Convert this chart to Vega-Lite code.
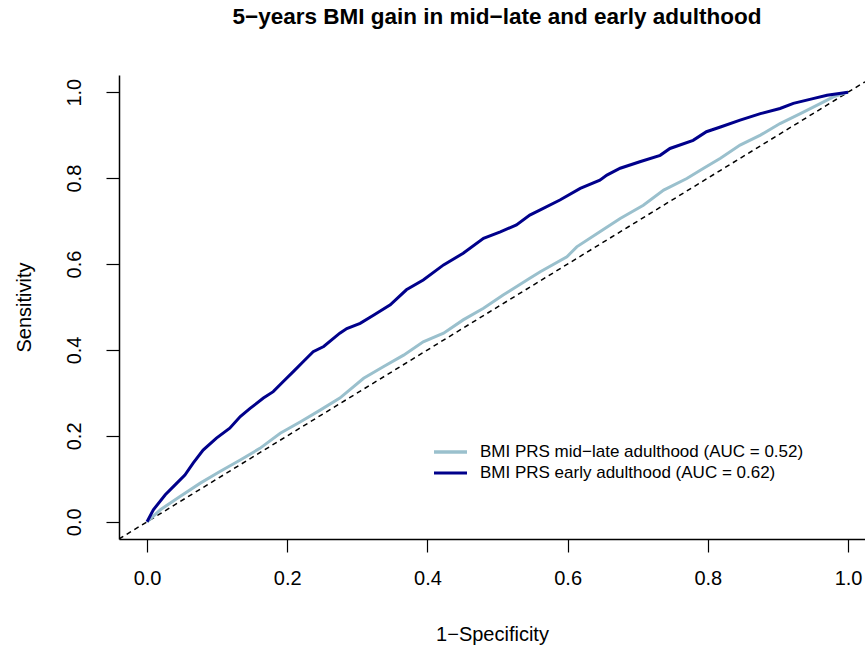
{
  "$schema": "https://vega.github.io/schema/vega-lite/v6.json",
  "width": 746,
  "height": 464,
  "autosize": "none",
  "padding": {"left": 119, "top": 75, "right": 0, "bottom": 110},
  "background": "white",
  "config": {
    "view": {"stroke": null},
    "font": "Liberation Sans",
    "axis": {
      "domainColor": "black",
      "domainWidth": 1.5,
      "tickColor": "black",
      "tickWidth": 1.2,
      "tickSize": 13,
      "labelColor": "black",
      "titleColor": "black",
      "labelFont": "Liberation Sans",
      "titleFont": "Liberation Sans",
      "labelFontSize": 20,
      "titleFontSize": 20,
      "titleFontWeight": "normal",
      "grid": false
    }
  },
  "title": {
    "text": "5−years BMI gain in mid−late and early adulthood",
    "font": "Liberation Sans",
    "fontSize": 22.5,
    "fontWeight": "bold",
    "color": "black",
    "anchor": "middle",
    "frame": "group",
    "baseline": "bottom",
    "offset": 24,
    "dx": 5
  },
  "datasets": {
    "diag": [
      {"fpr": -0.04, "tpr": -0.04},
      {"fpr": 1.0242, "tpr": 1.0242}
    ],
    "roc": [
      {"model": "BMI PRS mid−late adulthood (AUC = 0.52)", "fpr": 0.0, "tpr": 0.0},
      {"model": "BMI PRS mid−late adulthood (AUC = 0.52)", "fpr": 0.019, "tpr": 0.028},
      {"model": "BMI PRS mid−late adulthood (AUC = 0.52)", "fpr": 0.047, "tpr": 0.059},
      {"model": "BMI PRS mid−late adulthood (AUC = 0.52)", "fpr": 0.076, "tpr": 0.090},
      {"model": "BMI PRS mid−late adulthood (AUC = 0.52)", "fpr": 0.104, "tpr": 0.117},
      {"model": "BMI PRS mid−late adulthood (AUC = 0.52)", "fpr": 0.133, "tpr": 0.144},
      {"model": "BMI PRS mid−late adulthood (AUC = 0.52)", "fpr": 0.161, "tpr": 0.171},
      {"model": "BMI PRS mid−late adulthood (AUC = 0.52)", "fpr": 0.190, "tpr": 0.206},
      {"model": "BMI PRS mid−late adulthood (AUC = 0.52)", "fpr": 0.219, "tpr": 0.233},
      {"model": "BMI PRS mid−late adulthood (AUC = 0.52)", "fpr": 0.247, "tpr": 0.260},
      {"model": "BMI PRS mid−late adulthood (AUC = 0.52)", "fpr": 0.275, "tpr": 0.288},
      {"model": "BMI PRS mid−late adulthood (AUC = 0.52)", "fpr": 0.309, "tpr": 0.334},
      {"model": "BMI PRS mid−late adulthood (AUC = 0.52)", "fpr": 0.337, "tpr": 0.361},
      {"model": "BMI PRS mid−late adulthood (AUC = 0.52)", "fpr": 0.366, "tpr": 0.388},
      {"model": "BMI PRS mid−late adulthood (AUC = 0.52)", "fpr": 0.394, "tpr": 0.419},
      {"model": "BMI PRS mid−late adulthood (AUC = 0.52)", "fpr": 0.423, "tpr": 0.439},
      {"model": "BMI PRS mid−late adulthood (AUC = 0.52)", "fpr": 0.451, "tpr": 0.470},
      {"model": "BMI PRS mid−late adulthood (AUC = 0.52)", "fpr": 0.480, "tpr": 0.497},
      {"model": "BMI PRS mid−late adulthood (AUC = 0.52)", "fpr": 0.508, "tpr": 0.528},
      {"model": "BMI PRS mid−late adulthood (AUC = 0.52)", "fpr": 0.546, "tpr": 0.567},
      {"model": "BMI PRS mid−late adulthood (AUC = 0.52)", "fpr": 0.561, "tpr": 0.582},
      {"model": "BMI PRS mid−late adulthood (AUC = 0.52)", "fpr": 0.599, "tpr": 0.617},
      {"model": "BMI PRS mid−late adulthood (AUC = 0.52)", "fpr": 0.613, "tpr": 0.640},
      {"model": "BMI PRS mid−late adulthood (AUC = 0.52)", "fpr": 0.646, "tpr": 0.675},
      {"model": "BMI PRS mid−late adulthood (AUC = 0.52)", "fpr": 0.675, "tpr": 0.706},
      {"model": "BMI PRS mid−late adulthood (AUC = 0.52)", "fpr": 0.708, "tpr": 0.737},
      {"model": "BMI PRS mid−late adulthood (AUC = 0.52)", "fpr": 0.737, "tpr": 0.772},
      {"model": "BMI PRS mid−late adulthood (AUC = 0.52)", "fpr": 0.770, "tpr": 0.799},
      {"model": "BMI PRS mid−late adulthood (AUC = 0.52)", "fpr": 0.794, "tpr": 0.823},
      {"model": "BMI PRS mid−late adulthood (AUC = 0.52)", "fpr": 0.818, "tpr": 0.846},
      {"model": "BMI PRS mid−late adulthood (AUC = 0.52)", "fpr": 0.846, "tpr": 0.877},
      {"model": "BMI PRS mid−late adulthood (AUC = 0.52)", "fpr": 0.875, "tpr": 0.900},
      {"model": "BMI PRS mid−late adulthood (AUC = 0.52)", "fpr": 0.903, "tpr": 0.927},
      {"model": "BMI PRS mid−late adulthood (AUC = 0.52)", "fpr": 0.932, "tpr": 0.950},
      {"model": "BMI PRS mid−late adulthood (AUC = 0.52)", "fpr": 0.961, "tpr": 0.974},
      {"model": "BMI PRS mid−late adulthood (AUC = 0.52)", "fpr": 0.979, "tpr": 0.989},
      {"model": "BMI PRS mid−late adulthood (AUC = 0.52)", "fpr": 1.0, "tpr": 1.0},
      {"model": "BMI PRS early adulthood (AUC = 0.62)", "fpr": 0.0, "tpr": 0.0},
      {"model": "BMI PRS early adulthood (AUC = 0.62)", "fpr": 0.009, "tpr": 0.028},
      {"model": "BMI PRS early adulthood (AUC = 0.62)", "fpr": 0.026, "tpr": 0.063},
      {"model": "BMI PRS early adulthood (AUC = 0.62)", "fpr": 0.040, "tpr": 0.086},
      {"model": "BMI PRS early adulthood (AUC = 0.62)", "fpr": 0.054, "tpr": 0.109},
      {"model": "BMI PRS early adulthood (AUC = 0.62)", "fpr": 0.066, "tpr": 0.137},
      {"model": "BMI PRS early adulthood (AUC = 0.62)", "fpr": 0.080, "tpr": 0.167},
      {"model": "BMI PRS early adulthood (AUC = 0.62)", "fpr": 0.099, "tpr": 0.195},
      {"model": "BMI PRS early adulthood (AUC = 0.62)", "fpr": 0.118, "tpr": 0.218},
      {"model": "BMI PRS early adulthood (AUC = 0.62)", "fpr": 0.133, "tpr": 0.245},
      {"model": "BMI PRS early adulthood (AUC = 0.62)", "fpr": 0.147, "tpr": 0.264},
      {"model": "BMI PRS early adulthood (AUC = 0.62)", "fpr": 0.166, "tpr": 0.288},
      {"model": "BMI PRS early adulthood (AUC = 0.62)", "fpr": 0.180, "tpr": 0.303},
      {"model": "BMI PRS early adulthood (AUC = 0.62)", "fpr": 0.194, "tpr": 0.326},
      {"model": "BMI PRS early adulthood (AUC = 0.62)", "fpr": 0.209, "tpr": 0.350},
      {"model": "BMI PRS early adulthood (AUC = 0.62)", "fpr": 0.223, "tpr": 0.373},
      {"model": "BMI PRS early adulthood (AUC = 0.62)", "fpr": 0.237, "tpr": 0.396},
      {"model": "BMI PRS early adulthood (AUC = 0.62)", "fpr": 0.252, "tpr": 0.408},
      {"model": "BMI PRS early adulthood (AUC = 0.62)", "fpr": 0.275, "tpr": 0.439},
      {"model": "BMI PRS early adulthood (AUC = 0.62)", "fpr": 0.285, "tpr": 0.450},
      {"model": "BMI PRS early adulthood (AUC = 0.62)", "fpr": 0.304, "tpr": 0.462},
      {"model": "BMI PRS early adulthood (AUC = 0.62)", "fpr": 0.323, "tpr": 0.481},
      {"model": "BMI PRS early adulthood (AUC = 0.62)", "fpr": 0.347, "tpr": 0.505},
      {"model": "BMI PRS early adulthood (AUC = 0.62)", "fpr": 0.370, "tpr": 0.540},
      {"model": "BMI PRS early adulthood (AUC = 0.62)", "fpr": 0.394, "tpr": 0.563},
      {"model": "BMI PRS early adulthood (AUC = 0.62)", "fpr": 0.423, "tpr": 0.598},
      {"model": "BMI PRS early adulthood (AUC = 0.62)", "fpr": 0.451, "tpr": 0.625},
      {"model": "BMI PRS early adulthood (AUC = 0.62)", "fpr": 0.480, "tpr": 0.660},
      {"model": "BMI PRS early adulthood (AUC = 0.62)", "fpr": 0.504, "tpr": 0.675},
      {"model": "BMI PRS early adulthood (AUC = 0.62)", "fpr": 0.527, "tpr": 0.691},
      {"model": "BMI PRS early adulthood (AUC = 0.62)", "fpr": 0.546, "tpr": 0.714},
      {"model": "BMI PRS early adulthood (AUC = 0.62)", "fpr": 0.561, "tpr": 0.726},
      {"model": "BMI PRS early adulthood (AUC = 0.62)", "fpr": 0.589, "tpr": 0.749},
      {"model": "BMI PRS early adulthood (AUC = 0.62)", "fpr": 0.618, "tpr": 0.776},
      {"model": "BMI PRS early adulthood (AUC = 0.62)", "fpr": 0.646, "tpr": 0.795},
      {"model": "BMI PRS early adulthood (AUC = 0.62)", "fpr": 0.656, "tpr": 0.807},
      {"model": "BMI PRS early adulthood (AUC = 0.62)", "fpr": 0.675, "tpr": 0.823},
      {"model": "BMI PRS early adulthood (AUC = 0.62)", "fpr": 0.703, "tpr": 0.838},
      {"model": "BMI PRS early adulthood (AUC = 0.62)", "fpr": 0.732, "tpr": 0.853},
      {"model": "BMI PRS early adulthood (AUC = 0.62)", "fpr": 0.746, "tpr": 0.869},
      {"model": "BMI PRS early adulthood (AUC = 0.62)", "fpr": 0.779, "tpr": 0.888},
      {"model": "BMI PRS early adulthood (AUC = 0.62)", "fpr": 0.798, "tpr": 0.908},
      {"model": "BMI PRS early adulthood (AUC = 0.62)", "fpr": 0.818, "tpr": 0.919},
      {"model": "BMI PRS early adulthood (AUC = 0.62)", "fpr": 0.846, "tpr": 0.935},
      {"model": "BMI PRS early adulthood (AUC = 0.62)", "fpr": 0.875, "tpr": 0.950},
      {"model": "BMI PRS early adulthood (AUC = 0.62)", "fpr": 0.903, "tpr": 0.962},
      {"model": "BMI PRS early adulthood (AUC = 0.62)", "fpr": 0.922, "tpr": 0.974},
      {"model": "BMI PRS early adulthood (AUC = 0.62)", "fpr": 0.950, "tpr": 0.985},
      {"model": "BMI PRS early adulthood (AUC = 0.62)", "fpr": 0.970, "tpr": 0.993},
      {"model": "BMI PRS early adulthood (AUC = 0.62)", "fpr": 1.0, "tpr": 1.0}
    ]
  },
  "layer": [
    {
      "data": {"name": "diag"},
      "mark": {"type": "line", "color": "black", "strokeWidth": 1.5, "strokeDash": [5, 4], "clip": true},
      "encoding": {
        "x": {
          "field": "fpr", "type": "quantitative",
          "scale": {"domain": [-0.04, 1.0242], "nice": false, "zero": false},
          "axis": {
            "values": [0, 0.2, 0.4, 0.6, 0.8, 1.0],
            "format": ".1f",
            "labelPadding": 16,
            "labelBaseline": "top",
            "title": "1−Specificity",
            "titlePadding": 36
          }
        },
        "y": {
          "field": "tpr", "type": "quantitative",
          "scale": {"domain": [-0.04, 1.04], "nice": false, "zero": false},
          "axis": {
            "values": [0, 0.2, 0.4, 0.6, 0.8, 1.0],
            "format": ".1f",
            "labelAngle": -90,
            "labelAlign": "center",
            "labelBaseline": "bottom",
            "labelPadding": 22,
            "title": "Sensitivity",
            "titlePadding": 30
          }
        }
      }
    },
    {
      "mark": {"type": "rule", "color": "black", "strokeWidth": 1.5},
      "encoding": {"y": {"datum": 1.04}}
    },
    {
      "data": {"name": "roc"},
      "mark": {"type": "line", "strokeWidth": 3, "clip": true},
      "encoding": {
        "x": {"field": "fpr", "type": "quantitative"},
        "y": {"field": "tpr", "type": "quantitative"},
        "color": {
          "field": "model", "type": "nominal",
          "scale": {
            "domain": ["BMI PRS mid−late adulthood (AUC = 0.52)", "BMI PRS early adulthood (AUC = 0.62)"],
            "range": ["#9ac0cd", "#00008b"]
          },
          "legend": {
            "title": null,
            "orient": "none",
            "legendX": 313,
            "legendY": 367,
            "symbolType": "stroke",
            "symbolSize": 1089,
            "symbolStrokeWidth": 3,
            "labelFontSize": 17,
            "labelFont": "Liberation Sans",
            "labelColor": "black",
            "labelLimit": 0,
            "labelOffset": 11,
            "clipHeight": 20,
            "rowPadding": 1
          }
        },
        "strokeWidth": {
          "field": "model", "type": "nominal",
          "scale": {
            "domain": ["BMI PRS mid−late adulthood (AUC = 0.52)", "BMI PRS early adulthood (AUC = 0.62)"],
            "range": [3.5, 3]
          },
          "legend": null
        }
      }
    }
  ]
}
